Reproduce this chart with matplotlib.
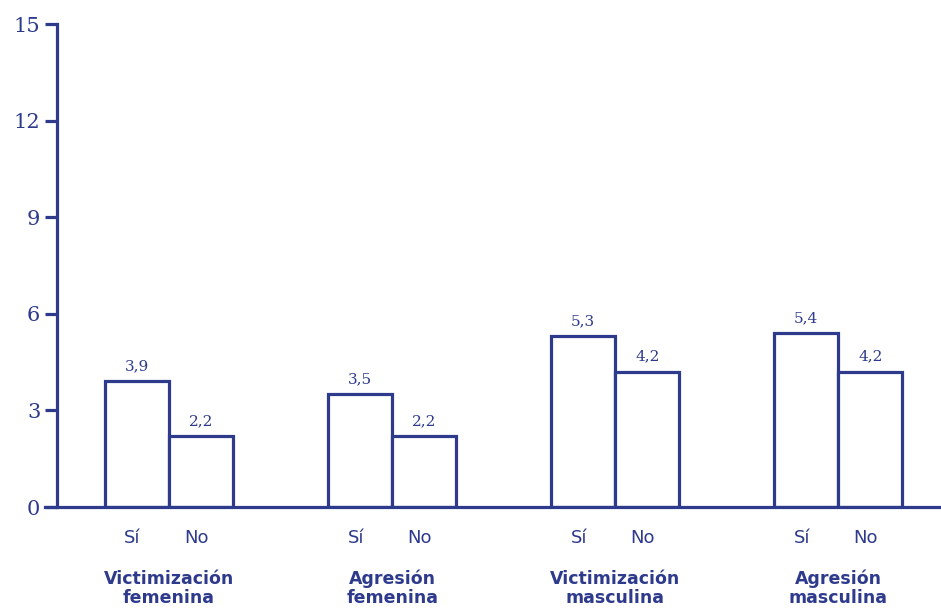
import matplotlib
matplotlib.use('Agg')
from matplotlib import pyplot as plt
import numpy as np

grupos = ['Victimización\nfemenina', 'Agresión\nfemenina', 'Victimización\nmasculina', 'Agresión\nmasculina']
si = [3.9, 3.5, 5.3, 5.4]
no = [2.2, 2.2, 4.2, 4.2]
etiquetas = ['Sí', 'No']

azul = '#2e3a8c'
x = np.arange(len(grupos))
w = 0.287

fig = plt.figure(figsize=(9.41, 6.08), dpi=100)
ax = fig.add_axes([0.0606, 0.1661, 0.9394, 0.7944])

ax.bar(x - w / 2, si, w, color='white', edgecolor=azul, linewidth=2.3)
ax.bar(x + w / 2, no, w, color='white', edgecolor=azul, linewidth=2.3)

for i in range(len(grupos)):
    ax.text(x[i] - w / 2, si[i] + 0.25, str(si[i]).replace('.', ','), ha='center', va='bottom',
            color=azul, fontsize=11, family='DejaVu Serif')
    ax.text(x[i] + w / 2, no[i] + 0.25, str(no[i]).replace('.', ','), ha='center', va='bottom',
            color=azul, fontsize=11, family='DejaVu Serif')
    ax.text(x[i] - w / 2 - 0.02, -0.95, etiquetas[0], ha='center', va='center',
            color=azul, fontsize=13, family='DejaVu Sans')
    ax.text(x[i] + w / 2 - 0.02, -0.95, etiquetas[1], ha='center', va='center',
            color=azul, fontsize=13, family='DejaVu Sans')
    ax.text(x[i], -2.52, grupos[i], ha='center', va='center', color=azul,
            fontsize=12.5, fontweight='bold', family='DejaVu Sans', linespacing=1.05)

ax.set_xlim(-0.502, 3.46)
ax.set_ylim(0, 15)
ax.set_yticks([0, 3, 6, 9, 12, 15])
ax.set_xticks([])
ax.tick_params(axis='y', colors=azul, width=2.3, length=9, labelsize=15, pad=3)
for lab in ax.get_yticklabels():
    lab.set_family('DejaVu Serif')

for s in ['top', 'right']:
    ax.spines[s].set_visible(False)
for s in ['left', 'bottom']:
    ax.spines[s].set_color(azul)
    ax.spines[s].set_linewidth(2.3)
ax.spines['bottom'].set_bounds(-0.555, 3.46)
ax.spines['bottom'].set_clip_on(False)

fig.savefig('out.png', dpi=100)
